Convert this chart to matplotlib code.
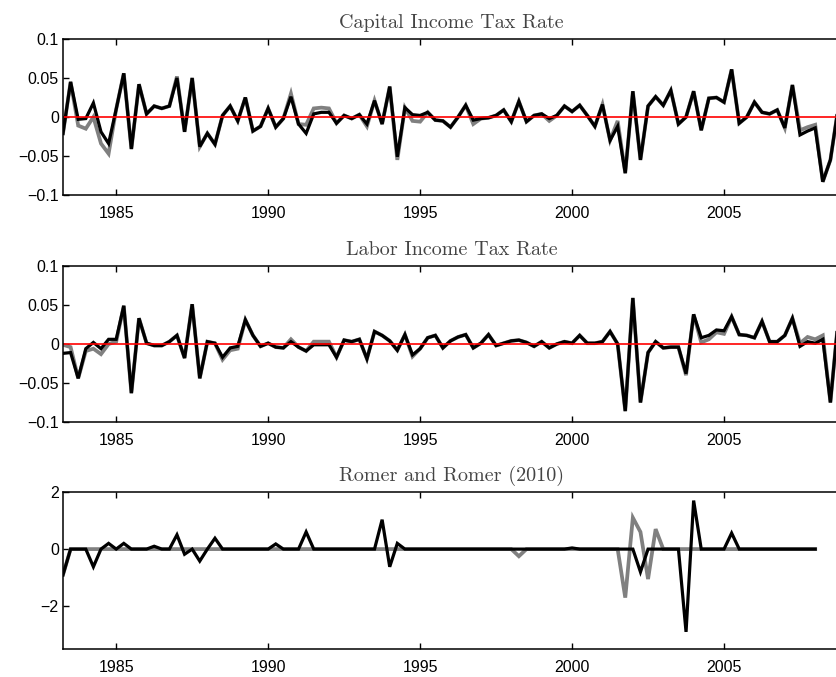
import numpy as np
import pandas as pd
import matplotlib
matplotlib.use("Agg")
import matplotlib.pyplot as plt

# quarterly values, one row per year, series starts 1983Q2
capital_black = [
    -0.021, 0.045, -0.003,
    -0.002, 0.018, -0.019, -0.034,
    0.010, 0.056, -0.041, 0.042,
    0.004, 0.014, 0.011, 0.014,
    0.050, -0.019, 0.050, -0.038,
    -0.021, -0.035, 0.002, 0.014,
    -0.005, 0.025, -0.018, -0.012,
    0.011, -0.013, -0.002, 0.026,
    -0.009, -0.021, 0.004, 0.006,
    0.006, -0.008, 0.002, -0.002,
    0.003, -0.009, 0.021, -0.009,
    0.039, -0.051, 0.012, 0.003,
    0.002, 0.006, -0.004, -0.005,
    -0.013, 0.000, 0.015, -0.004,
    -0.002, -0.001, 0.002, 0.009,
    -0.006, 0.020, -0.006, 0.002,
    0.004, -0.002, 0.002, 0.014,
    0.007, 0.015, 0.002, -0.012,
    0.016, -0.030, -0.012, -0.072,
    0.033, -0.055, 0.014, 0.026,
    0.015, 0.034, -0.009, 0.000,
    0.033, -0.017, 0.024, 0.025,
    0.019, 0.061, -0.008, 0.000,
    0.019, 0.006, 0.004, 0.009,
    -0.014, 0.041, -0.023, -0.018,
    -0.014, -0.083, -0.055, 0.010,
]
capital_gray = [
    -0.021, 0.045, -0.011,
    -0.015, 0.000, -0.034, -0.047,
    0.010, 0.056, -0.041, 0.042,
    0.004, 0.014, 0.011, 0.014,
    0.052, -0.019, 0.050, -0.038,
    -0.021, -0.035, 0.002, 0.014,
    -0.005, 0.025, -0.018, -0.012,
    0.011, -0.013, -0.002, 0.030,
    -0.009, -0.010, 0.011, 0.012,
    0.011, -0.008, 0.002, -0.002,
    0.003, -0.012, 0.021, -0.009,
    0.039, -0.055, 0.012, -0.005,
    -0.006, 0.006, -0.004, -0.005,
    -0.013, 0.000, 0.015, -0.009,
    -0.002, -0.001, 0.002, 0.009,
    -0.006, 0.020, -0.006, 0.002,
    0.004, -0.005, 0.002, 0.014,
    0.007, 0.015, 0.002, -0.012,
    0.016, -0.030, -0.005, -0.072,
    0.033, -0.055, 0.014, 0.026,
    0.015, 0.034, -0.009, 0.000,
    0.033, -0.017, 0.024, 0.025,
    0.019, 0.061, -0.008, 0.000,
    0.019, 0.006, 0.004, 0.009,
    -0.014, 0.041, -0.017, -0.013,
    -0.010, -0.083, -0.055, 0.010,
]

labor_black = [
    -0.012, -0.011, -0.044,
    -0.006, 0.002, -0.006, 0.006,
    0.006, 0.049, -0.063, 0.033,
    0.001, -0.002, -0.002, 0.003,
    0.011, -0.018, 0.051, -0.044,
    0.003, 0.001, -0.017, -0.005,
    -0.003, 0.031, 0.011, -0.003,
    0.001, -0.004, -0.005, 0.003,
    -0.004, -0.009, -0.001, -0.001,
    -0.001, -0.017, 0.005, 0.003,
    0.006, -0.019, 0.016, 0.011,
    0.004, -0.008, 0.012, -0.014,
    -0.006, 0.008, 0.011, -0.005,
    0.004, 0.009, 0.012, -0.005,
    0.001, 0.012, -0.002, 0.001,
    0.004, 0.005, 0.002, -0.003,
    0.003, -0.005, 0.000, 0.003,
    0.001, 0.011, 0.001, 0.001,
    0.003, 0.016, 0.000, -0.086,
    0.059, -0.075, -0.011, 0.003,
    -0.005, -0.004, -0.004, -0.038,
    0.038, 0.008, 0.011, 0.018,
    0.017, 0.035, 0.012, 0.011,
    0.008, 0.029, 0.003, 0.003,
    0.011, 0.033, -0.003, 0.003,
    0.001, 0.006, -0.075, 0.028,
]
labor_gray = [
    -0.001, -0.004, -0.044,
    -0.009, -0.006, -0.013, 0.000,
    0.003, 0.049, -0.063, 0.033,
    0.001, -0.002, -0.002, 0.003,
    0.011, -0.018, 0.051, -0.044,
    0.003, 0.001, -0.020, -0.008,
    -0.006, 0.031, 0.011, -0.003,
    0.001, -0.004, -0.005, 0.006,
    -0.004, -0.009, 0.003, 0.003,
    0.003, -0.017, 0.005, 0.003,
    0.006, -0.019, 0.016, 0.011,
    0.004, -0.008, 0.012, -0.016,
    -0.006, 0.008, 0.011, -0.005,
    0.004, 0.009, 0.012, -0.005,
    0.001, 0.012, -0.002, 0.001,
    0.004, 0.005, 0.002, -0.003,
    0.003, -0.005, 0.000, 0.003,
    0.001, 0.011, 0.001, 0.001,
    0.003, 0.016, 0.000, -0.086,
    0.059, -0.075, -0.011, 0.003,
    -0.005, -0.004, -0.004, -0.040,
    0.038, 0.002, 0.006, 0.015,
    0.013, 0.035, 0.012, 0.011,
    0.008, 0.029, 0.003, 0.003,
    0.011, 0.033, 0.001, 0.009,
    0.006, 0.011, -0.075, 0.028,
]

# Romer and Romer (2010), ends 2008Q1
romer_black = [
    -0.9, 0, 0,
    0, -0.62, 0, 0.2,
    0, 0.2, 0, 0,
    0, 0.1, 0, 0,
    0.5, -0.18, 0, -0.42,
    0, 0.38, 0, 0,
    0, 0, 0, 0,
    0, 0.18, 0, 0,
    0, 0.6, 0, 0,
    0, 0, 0, 0,
    0, 0, 0, 1.03,
    -0.62, 0.2, 0, 0,
    0, 0, 0, 0,
    0, 0, 0, 0,
    0, 0, 0, 0,
    0, 0, 0, 0,
    0, 0, 0, 0,
    0.04, 0, 0, 0,
    0, 0, 0, 0,
    0, -0.8, 0, 0,
    0, 0, 0, -2.9,
    1.7, 0, 0, 0,
    0, 0.56, 0, 0,
    0, 0, 0, 0,
    0, 0, 0, 0,
    0,
]
romer_gray = [
    -0.9, 0, 0,
    0, 0, 0, 0,
    0, 0, 0, 0,
    0, 0, 0, 0,
    0, 0, 0, 0,
    0, 0, 0, 0,
    0, 0, 0, 0,
    0, 0, 0, 0,
    0, 0, 0, 0,
    0, 0, 0, 0,
    0, 0, 0, 0,
    0, 0, 0, 0,
    0, 0, 0, 0,
    0, 0, 0, 0,
    0, 0, 0, 0,
    0, -0.25, 0, 0,
    0, 0, 0, 0,
    0, 0, 0, 0,
    0, 0, 0, -1.7,
    1.1, 0.6, -1.05, 0.7,
    0, 0, 0, 0,
    0, 0, 0, 0,
    0, 0, 0, 0,
    0, 0, 0, 0,
    0, 0, 0, 0,
    0,
]

titles = ["Capital Income Tax Rate", "Labor Income Tax Rate", "Romer and Romer (2010)"]
year_ticks = [1985, 1990, 1995, 2000, 2005]


def quarter_dates(n):
    p = pd.period_range("1983Q2", periods=n, freq="Q")
    return p.year + (p.quarter - 1) / 4.0


fig = plt.figure(figsize=(8.36, 6.77), dpi=100)
left, width = 63 / 836, 777 / 836  # right spine falls just outside the image
boxes = [(39, 195), (266, 422), (492, 649)]

panels = [
    (capital_black, capital_gray, (-0.1, 0.1), [-0.1, -0.05, 0, 0.05, 0.1],
     ["\u22120.1", "\u22120.05", "0", "0.05", "0.1"], True),
    (labor_black, labor_gray, (-0.1, 0.1), [-0.1, -0.05, 0, 0.05, 0.1],
     ["\u22120.1", "\u22120.05", "0", "0.05", "0.1"], True),
    (romer_black, romer_gray, (-3.5, 2), [-2, 0, 2], ["\u22122", "0", "2"], False),
]

for (top, bot), title, (blk, gry, ylim, yt, ytl, zero_line) in zip(boxes, titles, panels):
    ax = fig.add_axes([left, 1 - bot / 677, width, (bot - top) / 677])
    t = quarter_dates(len(blk))
    ax.plot(t, gry, color="#808080", lw=2.7, solid_joinstyle="miter")
    ax.plot(t, blk, color="black", lw=2.3, solid_joinstyle="miter")
    if zero_line:
        ax.axhline(0, color="red", lw=1.2)
    ax.set_xlim(1983.25, 2008.75 + 0.25 * 2 / 7.6)
    ax.set_ylim(*ylim)
    ax.set_xticks(year_ticks)
    ax.set_xticklabels([str(y) for y in year_ticks], family="Liberation Sans", fontsize=11.5)
    ax.set_yticks(yt)
    ax.set_yticklabels(ytl, family="Liberation Sans", fontsize=11.5)
    ax.tick_params(direction="in", length=4.5, width=1, top=True, right=False)
    ax.tick_params(axis="x", pad=8)
    ax.tick_params(axis="y", pad=3)
    for s in ax.spines.values():
        s.set_linewidth(1.1)
    ax.set_title(title, family="cmr10", fontsize=14.5, color="#444444", pad=8)

fig.savefig("out.png", dpi=100)
